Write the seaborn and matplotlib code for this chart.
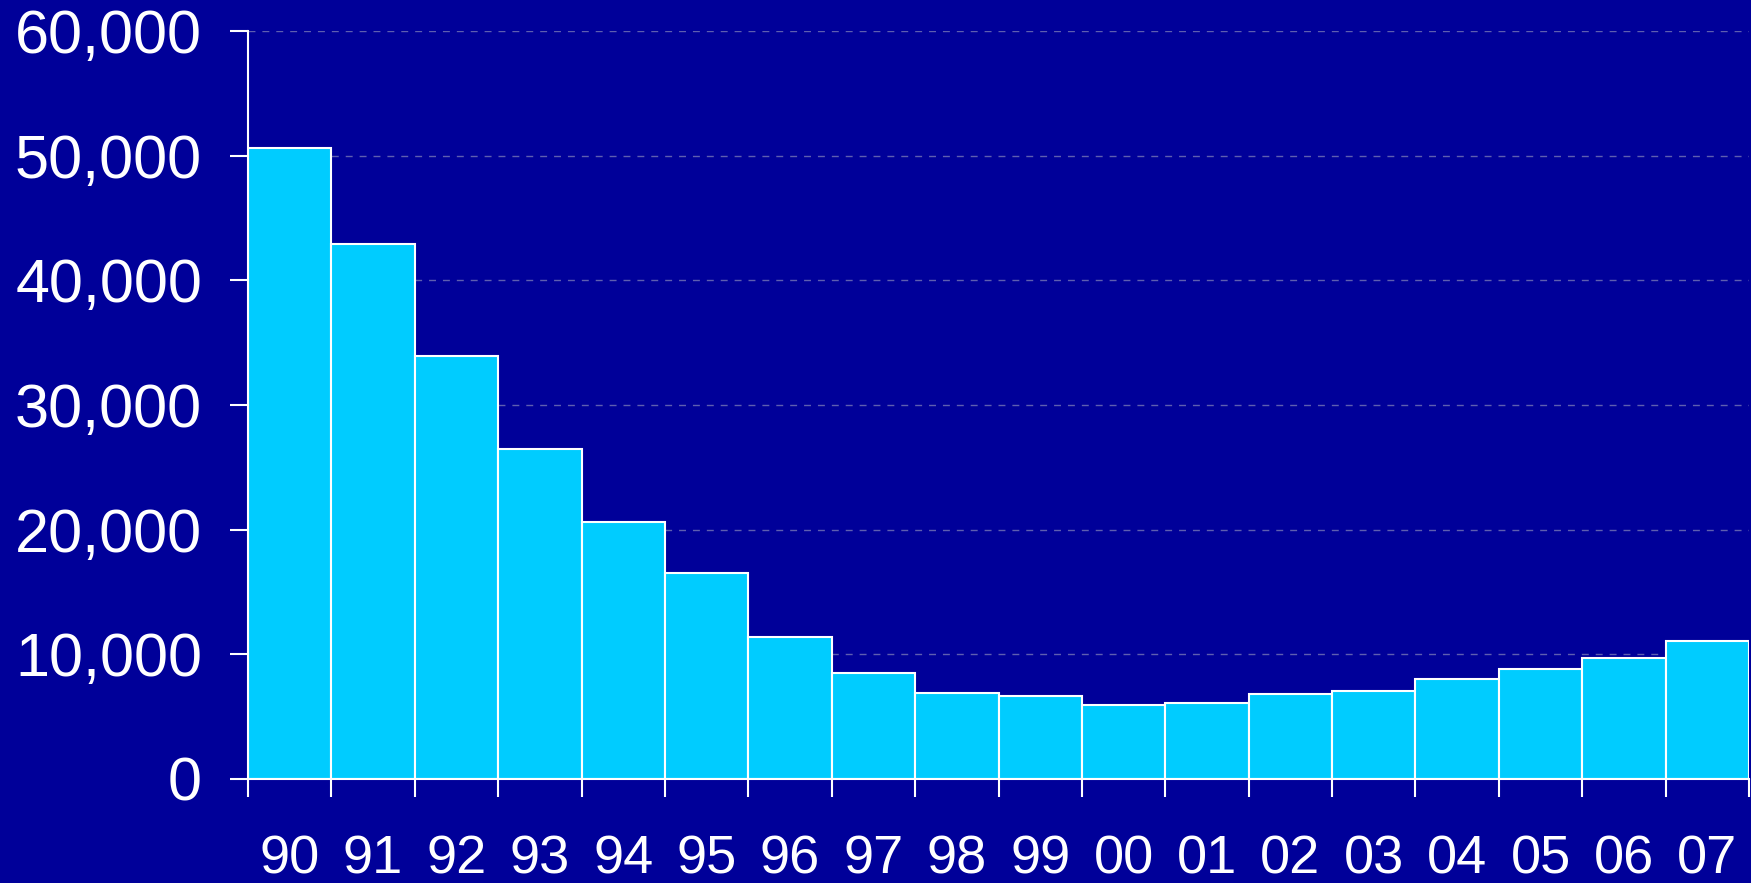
import numpy as np
import pandas as pd
import matplotlib
matplotlib.use("Agg")
import matplotlib.pyplot as plt
import seaborn as sns
from matplotlib.ticker import FuncFormatter, FixedLocator

# Data
years = ["90", "91", "92", "93", "94", "95", "96", "97", "98",
         "99", "00", "01", "02", "03", "04", "05", "06", "07"]
values = [50650, 42900, 33950, 26500, 20600, 16520, 11370, 8480, 6930,
          6670, 5900, 6070, 6790, 7090, 8010, 8790, 9700, 11040]
y_ticks = [0, 10000, 20000, 30000, 40000, 50000, 60000]

bg = "#000099"
bar_color = "#00CCFF"

df = pd.DataFrame({"year": years, "value": values})

sns.set_style("white")
plt.rcParams["font.family"] = ["Liberation Sans", "DejaVu Sans"]

fig = plt.figure(figsize=(17.51, 8.83), dpi=100, facecolor=bg)
ax = fig.add_axes([0.1416, 0.1178, 0.8573, 0.8468])
ax.set_facecolor(bg)

sns.barplot(data=df, x="year", y="value", order=years, width=1.0,
            color=bar_color, saturation=1, edgecolor="white",
            linewidth=1.5, ax=ax)

ax.set_xlim(-0.5, len(years) - 0.5)
ax.set_ylim(0, 60000)

# gridlines
ax.set_axisbelow(True)
ax.yaxis.grid(True, color="#5e5eb0", linestyle=(0, (5, 5)), linewidth=1.0)
ax.xaxis.grid(False)

# y axis
ax.yaxis.set_major_locator(FixedLocator(y_ticks))
ax.yaxis.set_major_formatter(FuncFormatter(lambda v, p: f"{int(v):,}"))
ax.tick_params(axis="y", which="major", direction="out", length=13,
               width=1.5, color="white", labelcolor="white",
               labelsize=44, pad=20, left=True)

# x axis: ticks at bar edges, labels at centers
ax.xaxis.set_major_locator(FixedLocator(np.arange(len(years) + 1) - 0.5))
ax.xaxis.set_major_formatter(FuncFormatter(lambda v, p: ""))
ax.xaxis.set_minor_locator(FixedLocator(np.arange(len(years))))
ax.set_xticks(np.arange(len(years)), labels=years, minor=True)
ax.tick_params(axis="x", which="major", direction="out", length=13,
               width=1.5, color="white", bottom=True)
ax.tick_params(axis="x", which="minor", length=0, labelcolor="white",
               labelsize=39, pad=40, bottom=True)

ax.set_xlabel("")
ax.set_ylabel("")

for side in ["top", "right"]:
    ax.spines[side].set_visible(False)
for side in ["left", "bottom"]:
    ax.spines[side].set_visible(True)
    ax.spines[side].set_color("white")
    ax.spines[side].set_linewidth(1.5)
ax.spines["bottom"].set_zorder(5)

fig.savefig("out.png", dpi=100, facecolor=bg)
